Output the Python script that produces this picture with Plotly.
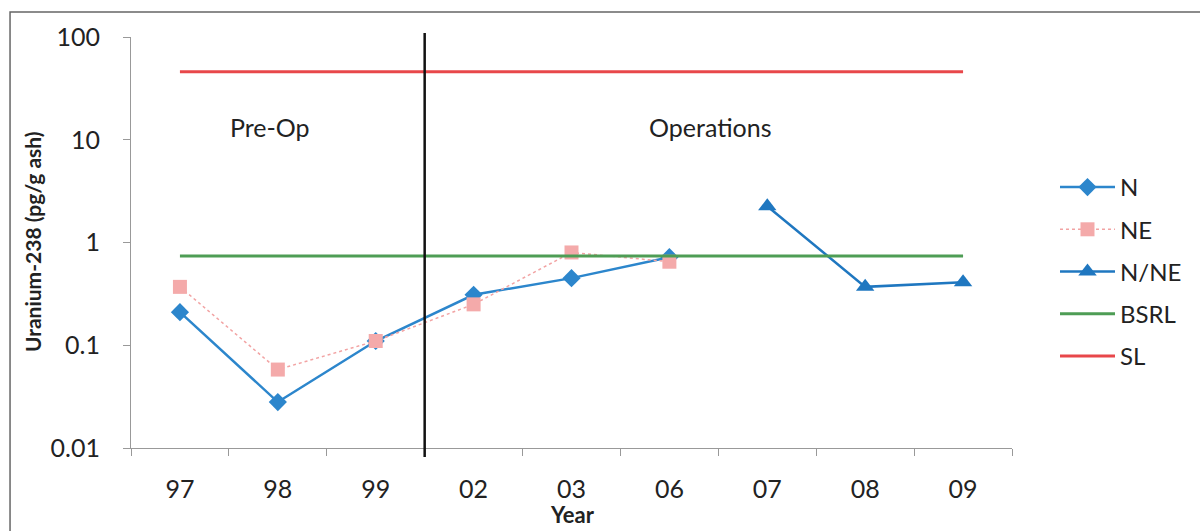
import plotly.graph_objects as go

# Sampling years (categorical axis)
years = ["97", "98", "99", "02", "03", "06", "07", "08", "09"]

# Uranium-238 concentrations (pg/g ash) by station
n_values = [0.21, 0.028, 0.11, 0.31, 0.45, 0.72, None, None, None]
ne_values = [0.37, 0.058, 0.11, 0.25, 0.80, 0.65, None, None, None]
nne_values = [None, None, None, None, None, None, 2.25, 0.37, 0.41]

# Reference levels
bsrl_level = 0.74
sl_level = 46

FONT = "Lato"
TXT = "#222222"

fig = go.Figure()

fig.add_trace(go.Scatter(
    x=years, y=n_values, name="N", mode="lines+markers",
    line=dict(color="#2c86cc", width=2.5),
    marker=dict(symbol="diamond", size=14, color="#2c86cc"),
    legendgroup="a",
))
fig.add_trace(go.Scatter(
    x=years, y=ne_values, name="NE", mode="lines+markers",
    line=dict(color="#f2a3a3", width=1.5, dash="dot"),
    marker=dict(symbol="square", size=14, color="#f4aaaa"),
    legendgroup="b",
))
fig.add_trace(go.Scatter(
    x=years, y=nne_values, name="N/NE", mode="lines+markers",
    line=dict(color="#1f77c0", width=2.5),
    marker=dict(symbol="triangle-up", size=16, color="#1f77c0"),
    legendgroup="c",
))
fig.add_trace(go.Scatter(
    x=years, y=[bsrl_level] * len(years), name="BSRL", mode="lines",
    line=dict(color="#4e9d55", width=3),
    legendgroup="d",
))
fig.add_trace(go.Scatter(
    x=years, y=[sl_level] * len(years), name="SL", mode="lines",
    line=dict(color="#e8474a", width=3),
    legendgroup="e",
))

# Divider between pre-operational and operational years
fig.add_shape(type="line", xref="x", yref="paper",
              x0=2.5, x1=2.5, y0=-0.022, y1=1.01,
              line=dict(color="#111111", width=2.5))

# Outer frame (left and top edges visible)
fig.add_shape(type="rect", xref="paper", yref="paper",
              x0=-0.1373, x1=1.26, y0=-0.26, y1=1.0608,
              line=dict(color="#666666", width=1.5))

# Period labels (y in log10 units on the log axis)
fig.add_annotation(text="Pre-Op", x=0.92, y=1.12, xref="x", yref="y",
                   showarrow=False, font=dict(family=FONT, size=25, color=TXT))
fig.add_annotation(text="Operations", x=5.42, y=1.12, xref="x", yref="y",
                   showarrow=False, font=dict(family=FONT, size=25, color=TXT))

fig.add_annotation(text="<b>Uranium-238 (pg/g ash)</b>", textangle=-90,
                   xref="paper", yref="paper", x=(33 - 131) / 881, y=(448 - 242) / 411,
                   xanchor="center", yanchor="middle",
                   showarrow=False, font=dict(family=FONT, size=21, color=TXT))
fig.add_annotation(text="<b>Year</b>", xref="paper", yref="paper",
                   x=(572 - 131) / 881, y=(448 - 514) / 411,
                   xanchor="center", yanchor="middle",
                   showarrow=False, font=dict(family=FONT, size=22, color=TXT))

fig.update_xaxes(
    type="category", categoryorder="array", categoryarray=years,
    range=[-0.5, 8.5], showgrid=False, showline=True, linecolor="#999999",
    linewidth=1, ticks="outside", tickson="boundaries", ticklen=7,
    tickcolor="#999999", ticklabelstandoff=19,
    tickfont=dict(family=FONT, size=25, color=TXT), zeroline=False,
)
fig.update_yaxes(
    type="log", range=[-2, 2], tickvals=[0.01, 0.1, 1, 10, 100],
    ticktext=["0.01", "0.1", "1", "10", "100"],
    showgrid=False, showline=True, linecolor="#999999", linewidth=1,
    ticks="outside", ticklen=7, tickcolor="#999999", ticklabelstandoff=18,
    tickfont=dict(family=FONT, size=25, color=TXT), zeroline=False,
)

fig.update_layout(
    width=1200, height=531,
    margin=dict(l=131, r=188, t=37, b=83),
    paper_bgcolor="white", plot_bgcolor="white",
    legend=dict(x=(1055 - 131) / 881, y=(448 - 165) / 411, xanchor="left", yanchor="top",
                font=dict(family=FONT, size=24, color=TXT),
                itemwidth=55, tracegroupgap=8, traceorder="grouped",
                bgcolor="rgba(0,0,0,0)"),
)

fig.write_html("out.html")
